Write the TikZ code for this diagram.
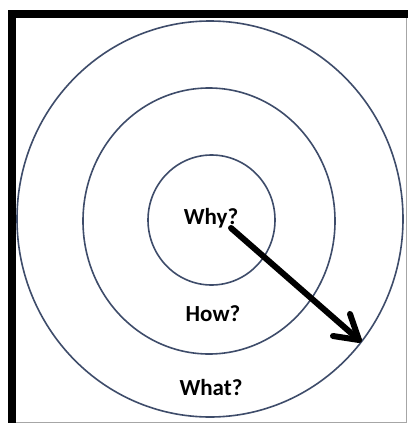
\documentclass[tikz,border=0pt]{standalone}
\usepackage{fontspec}
\setmainfont{Carlito}
\definecolor{ring}{HTML}{3E4C6A}
\tikzset{
  ringline/.style={draw=ring, line width=1.6pt},
  lbl/.style={font=\bfseries\fontsize{23}{23}\selectfont, text=black, inner sep=0pt},
  thickline/.style={line width=6pt, line cap=round, line join=round}
}
\begin{document}
\begin{tikzpicture}[x=1pt, y=-1pt]
\useasboundingbox (0,0) rectangle (408,425);
\fill[white] (0,0) rectangle (408,425);
% frame
\fill[black] (8,10) rectangle (408,18);
\fill[black] (8,10) rectangle (16,423);
\draw[gray!70, line width=1pt] (16,422) -- (406,422) -- (406,18);
% rings
\draw[ringline] (210,219) ellipse [x radius=193, y radius=198];
\draw[ringline] (209,221) ellipse [x radius=126, y radius=133];
\draw[ringline] (211.5,220) ellipse [x radius=63.5, y radius=65];
% labels
\node[lbl] (why) at (211,218) {Why?};
\node[lbl] (how) at (213,314) {How?};
\node[lbl] (what) at (211,388) {What?};
% arrow
\coordinate (s) at (231,228);
\coordinate (t) at (359,340);
\coordinate (w1) at (350,314);
\coordinate (w2) at (333,336);
\draw[thickline] (s) -- (t);
\draw[thickline] (w1) -- (t) -- (w2);
\end{tikzpicture}
\end{document}
